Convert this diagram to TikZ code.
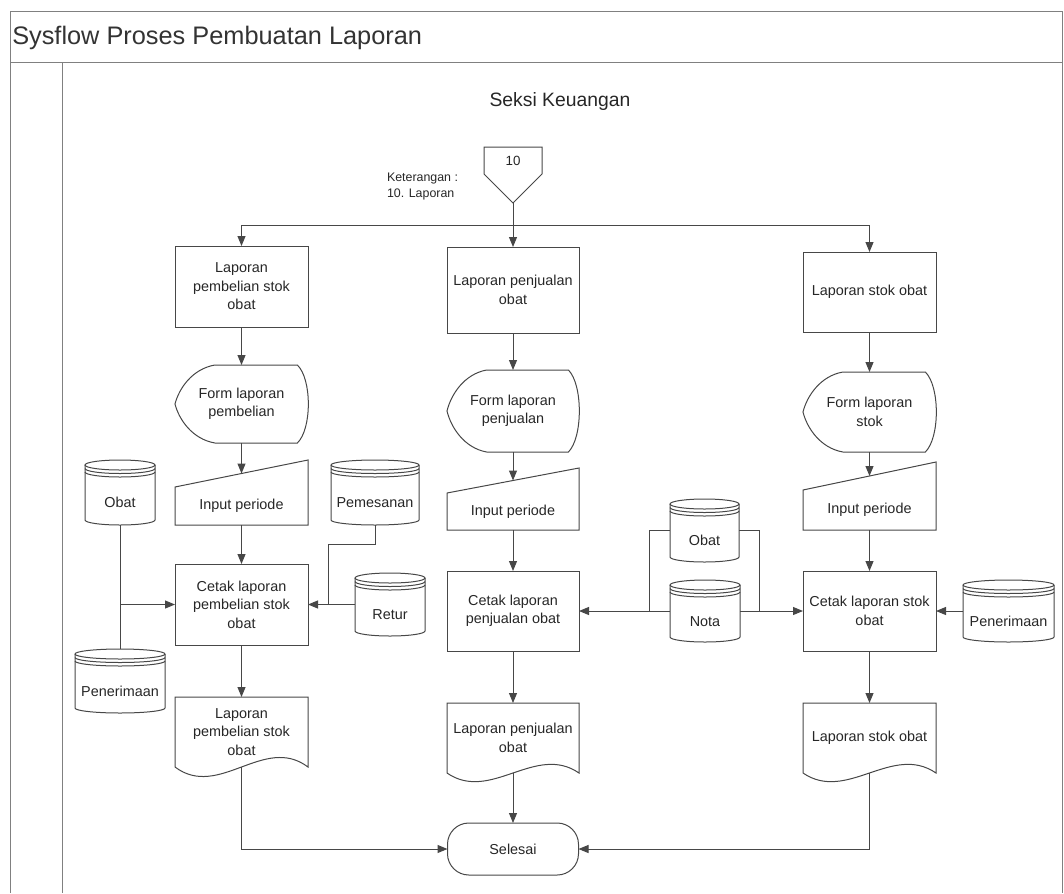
\documentclass[tikz,border=0pt]{standalone}
\usepackage{fontspec}
\setmainfont{Liberation Sans}
\usetikzlibrary{arrows.meta,calc}

% one unit = one pixel of the sheet, y grows downwards
\tikzset{
  x=0.75pt, y=-0.75pt,
  ln/.style={draw=black!72, line width=0.75pt},
  frame/.style={draw=black!50, line width=0.75pt},
  arr/.style={ln, -{Triangle[length=7.5pt,width=6pt]}},
  txt/.style={font=\fontsize{10.8pt}{13.9pt}\selectfont, text=black!85,
              align=center, inner sep=0pt, outer sep=0pt},
  proc/.style={txt, draw=black!72, line width=0.75pt, rectangle},
  dbtxt/.style={txt, text height=22.5pt, text depth=0pt},
  term/.style={txt, draw=black!72, line width=0.75pt, rectangle, rounded corners=16pt},
}

% process box: name, x0, y0, x1, y1, text
\newcommand\procnode[6]{%
  \node[proc, minimum width={(#4-#2)*0.75pt}, minimum height={(#5-#3)*0.75pt}]
    (#1) at ({(#2+#4)/2},{(#3+#5)/2}) {#6};}

% display shape: name, x0, y0, x1, y1, text
\newcommand\dispnode[6]{%
  \node[txt, minimum width={(#4-#2)*0.75pt}, minimum height={(#5-#3)*0.75pt}]
    (#1) at ({(#2+#4)/2},{(#3+#5)/2}) {#6};
  \draw[ln] ({#2+0.3*(#4-#2)},#3) -- ({#4-0.08*(#4-#2)},#3)
    .. controls ({#4+0.03*(#4-#2)},{#3+0.18*(#5-#3)}) and ({#4+0.03*(#4-#2)},{#5-0.18*(#5-#3)}) .. ({#4-0.08*(#4-#2)},#5)
    -- ({#2+0.3*(#4-#2)},#5)
    .. controls ({#2+0.13*(#4-#2)},{#5-0.05*(#5-#3)}) and ({#2+0.03*(#4-#2)},{#5-0.3*(#5-#3)}) .. (#2,{(#3+#5)/2})
    .. controls ({#2+0.03*(#4-#2)},{#3+0.3*(#5-#3)}) and ({#2+0.13*(#4-#2)},{#3+0.05*(#5-#3)}) .. ({#2+0.3*(#4-#2)},#3)
    -- cycle;}

% manual input: name, x0, y top-left, x1, y top-right, y bottom, text
\newcommand\maninode[7]{%
  \node[txt, minimum width={(#4-#2)*0.75pt}, minimum height={(#6-#3)*0.75pt}]
    (#1) at ({(#2+#4)/2},{(#3+#6)/2}) {#7};
  \coordinate (#1-top) at ({(#2+#4)/2},{(#3+#5)/2});
  \draw[ln] (#2,#3) -- (#4,#5) -- (#4,#6) -- (#2,#6) -- cycle;}

% document: name, x0, y0, x1, y wave, wave depth, text
\newcommand\docnode[7]{%
  \node[txt, minimum width={(#4-#2)*0.75pt}, minimum height={(#5-#3)*0.75pt}]
    (#1) at ({(#2+#4)/2},{(#3+#5)/2}) {#7};
  \draw[ln] (#4,#5) -- (#4,#3) -- (#2,#3) -- (#2,#5)
    .. controls ({#2+0.33*(#4-#2)},{#5+#6}) and ({#2+0.67*(#4-#2)},{#5-#6}) .. (#4,#5)
    -- cycle;}

% stored data (disk): name, x0, y0, x1, y1, text
\newcommand\dbnode[6]{%
  \node[dbtxt, minimum width={(#4-#2)*0.75pt}, minimum height={(#5-#3)*0.75pt}]
    (#1) at ({(#2+#4)/2},{(#3+#5)/2}) {#6};
  \draw[ln] (#2,{#3+5}) -- (#2,{#5-5})
    arc[start angle=180, end angle=360, x radius={(#4-#2)*0.375pt}, y radius=3.75pt]
    -- (#4,{#3+5});
  \draw[ln] ({(#2+#4)/2},{#3+5}) ellipse [x radius={(#4-#2)*0.375pt}, y radius=3.75pt];
  \draw[ln] (#2,{#3+8.5}) arc[start angle=180, end angle=360, x radius={(#4-#2)*0.375pt}, y radius=3.75pt];
  \draw[ln] (#2,{#3+12}) arc[start angle=180, end angle=360, x radius={(#4-#2)*0.375pt}, y radius=3.75pt];}

\begin{document}
\begin{tikzpicture}
\useasboundingbox (0,0) rectangle (1064,893);

% swimlane frame
\draw[frame] (10,893) -- (10,11) -- (1062,11) -- (1062,893);
\draw[frame] (10,62) -- (1062,62);
\draw[frame] (62,62) -- (62,893);
\node[anchor=base west, inner sep=0pt, font=\fontsize{19pt}{22pt}\selectfont, text=black!80]
  (title) at (12,44) {Sysflow Proses Pembuatan Laporan};
\node[inner sep=0pt, font=\fontsize{14.5pt}{17pt}\selectfont, text=black!85]
  (lane) at (560,101) {Seksi Keuangan};

% off-page connector
\node[txt, font=\fontsize{10pt}{12pt}\selectfont] (c10) at (513,161) {10};
\draw[ln] (484,147) -- (542,147) -- (542,174) -- (513,203) -- (484,174) -- cycle;
\coordinate (c10tip) at (513,203);
\coordinate (branch) at (513,225);
\node[txt, anchor=west, align=left, font=\fontsize{9.3pt}{12pt}\selectfont]
  (ket) at (387,187) {Keterangan :\\10. Laporan};

% report selection
\procnode{lapL}{175}{246}{308}{327}{Laporan\\pembelian stok\\obat}
\procnode{lapM}{447}{247}{579}{333}{Laporan penjualan\\obat}
\procnode{lapR}{803}{252}{936}{332}{Laporan stok obat}

% report forms
\dispnode{formL}{175}{365}{308}{443}{Form laporan\\pembelian}
\dispnode{formM}{447}{370}{579}{452}{Form laporan\\penjualan}
\dispnode{formR}{803}{372}{936}{452}{Form laporan\\stok}

% period input
\maninode{inL}{175}{487}{308}{460}{525}{Input periode}
\maninode{inM}{447}{493}{579}{468}{530}{Input periode}
\maninode{inR}{803}{490}{936}{462}{530}{Input periode}

% printing
\procnode{cetakL}{175}{564}{308}{645}{Cetak laporan\\pembelian stok\\obat}
\procnode{cetakM}{447}{571}{579}{651}{Cetak laporan\\penjualan obat}
\procnode{cetakR}{803}{571}{936}{651}{Cetak laporan stok\\obat}

% printed reports
\docnode{docL}{175}{697}{308}{767}{33}{Laporan\\pembelian stok\\obat}
\docnode{docM}{447}{703}{579}{773}{30}{Laporan penjualan\\obat}
\docnode{docR}{803}{703}{936}{773}{30}{Laporan stok obat}

% end
\node[term, minimum width={131*0.75pt}, minimum height={52*0.75pt}] (selesai) at (513,849) {Selesai};

% data stores
\dbnode{obatL}{85}{460}{155}{525}{Obat}
\dbnode{pesan}{331}{460}{419}{525}{Pemesanan}
\dbnode{retur}{355}{573}{425}{636}{Retur}
\dbnode{terimaL}{75}{649}{165}{713}{Penerimaan}
\dbnode{obatM}{670}{499}{739}{562}{Obat}
\dbnode{nota}{670}{580}{740}{642}{Nota}
\dbnode{terimaR}{963}{580}{1054}{642}{Penerimaan}

% top distribution
\draw[arr] (c10tip) -- (lapM.north);
\draw[arr] (branch) -| (lapL.north);
\draw[arr] (branch) -| (lapR.north);

% vertical flow in each column
\foreach \c in {L,M,R}{
  \draw[arr] (lap\c.south) -- (form\c.north);
  \draw[arr] (form\c.south) -- (in\c-top);
  \draw[arr] (in\c.south) -- (cetak\c.north);
  \draw[arr] (cetak\c.south) -- (doc\c.north);
}

% data feeding the purchase report
\draw[ln] (obatL.south) -- (terimaL.north);
\draw[arr] (obatL.south |- cetakL.west) -- (cetakL.west);
\coordinate (pjoin) at (328,544);
\draw[ln] (pesan.south) |- (pjoin) -- (pjoin |- cetakL.east);
\draw[arr] (retur.west) -- (cetakL.east);

% data feeding the sales and stock reports
\coordinate (mjL) at (649,611);
\coordinate (mjR) at (759,611);
\draw[ln] (obatM.west) -| (mjL);
\draw[ln] (obatM.east) -| (mjR);
\draw[arr] (nota.west) -- (cetakM.east);
\draw[arr] (nota.east) -- (cetakR.west);
\draw[arr] (terimaR.west) -- (cetakR.east);

% to the end
\draw[arr] (docM.south) -- (selesai.north);
\draw[arr] (docL.south) |- (selesai.west);
\draw[arr] (docR.south) |- (selesai.east);
\end{tikzpicture}
\end{document}
